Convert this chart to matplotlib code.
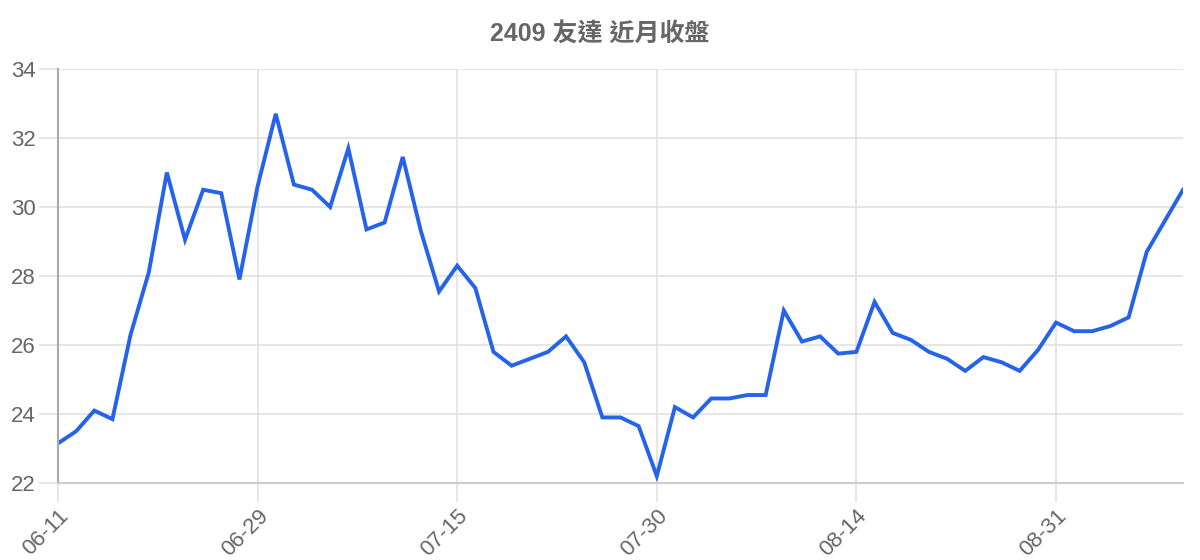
import matplotlib
matplotlib.use("Agg")
import matplotlib.pyplot as plt

plt.rcParams['font.family'] = ['Liberation Sans', 'Noto Sans CJK TC', 'DejaVu Sans']

# 收盤價 (每個交易日一點)
closes = [23.15, 23.5, 24.1, 23.85, 26.3, 28.1, 31.0, 29.05, 30.5, 30.4,
          27.9, 30.6, 32.7, 30.65, 30.5, 30.0, 31.7, 29.35, 29.55, 31.45,
          29.3, 27.55, 28.3, 27.65, 25.8, 25.4, 25.6, 25.8, 26.25, 25.5,
          23.9, 23.9, 23.65, 22.2, 24.2, 23.9, 24.45, 24.45, 24.55, 24.55,
          27.0, 26.1, 26.25, 25.75, 25.8, 27.25, 26.35, 26.15, 25.8, 25.6,
          25.25, 25.65, 25.5, 25.25, 25.85, 26.65, 26.4, 26.4, 26.55, 26.8,
          28.7, 29.6, 30.5]
tick_labels = ["06-11", "06-29", "07-15", "07-30", "08-14", "08-31"]
tick_every = 11
y_ticks = [22, 24, 26, 28, 30, 32, 34]
title = "2409 友達 近月收盤"

fig = plt.figure(figsize=(12, 5.6), dpi=100)
ax = fig.add_axes([58/1200, 1-483/560, (1183-58)/1200, (483-69)/560])

xx = range(len(closes))
ax.plot(xx, closes, color="#2563eb", lw=2.8, solid_joinstyle="miter")

ax.set_xlim(0, len(closes) - 1)
ax.set_ylim(y_ticks[0], y_ticks[-1])
ax.set_yticks(y_ticks)
ax.set_xticks([i * tick_every for i in range(len(tick_labels))])
ax.set_xticklabels(tick_labels, rotation=45, ha="right", rotation_mode="anchor")

ax.grid(color="#e2e2e2", lw=1.2)
ax.set_axisbelow(True)
ax.tick_params(axis="both", colors="#e2e2e2", length=14, width=1.2,
               labelsize=16, labelcolor="#666666", pad=2)
for s in ["top", "right"]:
    ax.spines[s].set_visible(False)
ax.spines["left"].set_color("#aaaaaa")
ax.spines["left"].set_linewidth(1.5)
ax.spines["bottom"].set_color("#cccccc")
ax.spines["bottom"].set_linewidth(1.5)

fig.text(0.5, 1-34/560, title, ha="center", va="center", fontsize=18,
         fontweight="bold", color="#666666")

fig.savefig("out.png", dpi=100)
